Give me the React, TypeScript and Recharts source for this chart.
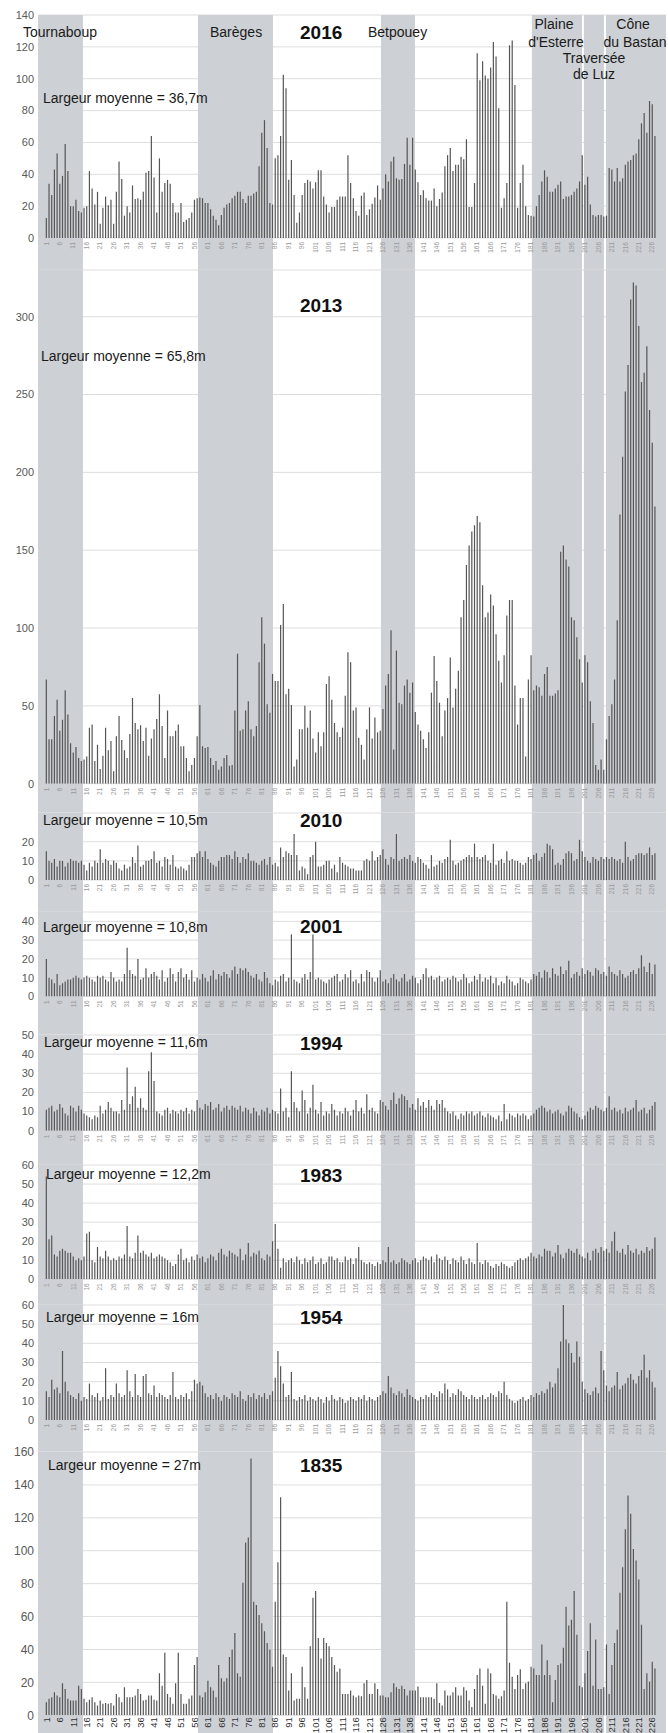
import React from 'react';
import { BarChart, Bar, XAxis, YAxis, CartesianGrid, ReferenceArea } from 'recharts';

const FONT = '"Liberation Sans", Arial, Helvetica, sans-serif';

// category numbers (cross-section index 1..227)
const categories: number[] = [];
for (let i = 1; i <= 227; i++) categories.push(i);

const xTicks = [1, 6, 11, 16, 21, 26, 31, 36, 41, 46, 51, 56, 61, 66, 71, 76, 81, 86, 91, 96, 101, 106, 111, 116, 121, 126, 131, 136, 141, 146, 151, 156, 161, 166, 171, 176, 181, 186, 191, 196, 201, 206, 211, 216, 221, 226];

// valley sections (in cross-section index units)
const bandNames = ['Tournaboup', 'Barèges', 'Betpouey', "Plaine d'Esterre", 'Traversée de Luz', 'Cône du Bastan'];
const bandStart = [-2, 57.4, 125.35, 181.4, 200.7, 208.9];
const bandEnd = [14.7, 85.25, 137.98, 200.0, 208.15, 231.2];

const s2016 = [
  12.5, 34, 27, 43, 53, 34, 39, 59, 42, 20,
  20, 24, 17, 16, 19, 20, 42, 31, 21, 29,
  9, 19, 26, 20.5, 24, 9, 29, 48, 37, 14,
  20, 16, 33, 24.5, 25, 24, 29, 41, 42, 64,
  38, 16, 50, 29, 34.5, 36.5, 34, 22, 16, 16,
  22, 10, 11.5, 12.5, 16, 24, 25, 25.5, 25, 22,
  22, 18, 14, 11.5, 8, 14.5, 19, 21, 22, 25,
  26.5, 29, 29, 24.5, 22, 26.5, 26.5, 28, 29, 45,
  66, 74, 56.5, 22, 21, 50, 52, 64, 102.5, 94,
  36.5, 49, 27, 9.5, 16, 27, 34.5, 36.5, 35.5, 31,
  35, 42.5, 42.5, 26, 21, 16, 19.5, 19.5, 24, 26,
  26, 26, 52, 34.5, 25, 17, 14, 26.5, 28.5, 14.5,
  18, 21.5, 25.5, 33, 24, 31, 40, 35.5, 48, 51,
  37.5, 36.5, 37, 46.5, 63, 46, 63, 43, 35, 27,
  30, 25, 23.5, 23.5, 31, 20, 24.5, 28.5, 45, 52,
  56.5, 42, 46, 46, 51, 49.5, 62, 19.5, 19.5, 34.5,
  116, 99, 111, 102, 100, 107, 123, 114, 81.5, 19,
  25, 34.5, 121, 124, 96, 19, 34.5, 46, 20, 14.5,
  14, 13.5, 20, 27, 35.5, 42.5, 38.5, 29, 29, 31,
  33.5, 35.5, 24.5, 26, 26, 27, 29, 31, 35.5, 52,
  33.5, 38.5, 21, 14.5, 13.5, 14.5, 14.5, 13.5, 14, 44,
  43, 35.5, 44, 35.5, 37.5, 46, 48, 49, 52, 53,
  62, 72, 78.5, 66, 86, 84, 64,
];

const s2013 = [
  67, 28.5, 28.5, 43.5, 54, 34, 41, 60, 44.5, 26,
  20, 23.5, 16.5, 14.5, 15.5, 17.5, 36, 38, 14.5, 25,
  9.5, 18, 36, 21.5, 27.5, 8, 30.5, 43.5, 28, 21.5,
  16.5, 32, 55, 39, 35, 37.5, 27.5, 36, 18, 29,
  35, 41.5, 57.5, 37, 16.5, 47, 30.5, 30.5, 34, 38,
  24, 24, 16.5, 8, 12, 16.5, 30.5, 50.5, 24, 23,
  23.5, 16.5, 12, 14.5, 9, 11, 16.5, 18.5, 11.5, 12,
  47, 83.5, 34, 35, 47, 53, 35, 30.5, 37, 78,
  107, 90, 51, 45.5, 70.5, 66, 66, 102, 115.5, 57.5,
  61, 50.5, 11, 15.5, 35, 35, 50, 36, 47, 29,
  20, 33, 24, 33, 64, 69, 54, 39, 33, 30,
  36, 56.5, 84.5, 78, 47, 49, 29.5, 25, 15.5, 35,
  49, 29, 42.5, 33, 34, 48, 63, 70.5, 98.5, 22,
  85.5, 52, 51, 63, 67, 58.5, 65, 46, 38, 34,
  28.5, 23, 33, 58.5, 82, 66, 52, 30.5, 47, 55,
  81, 49, 61, 72.5, 107, 118, 140.5, 153, 162, 166,
  172, 168, 127.5, 107, 110, 121.5, 114.5, 96, 79, 65,
  82.5, 108, 118, 118, 63, 38, 55, 55, 17.5, 67,
  82.5, 60, 63, 62, 56.5, 70.5, 75, 56.5, 56.5, 58,
  60, 149, 153, 144, 139.5, 107, 105, 94, 80, 65,
  82.5, 78, 53, 39, 12, 9, 15.5, 9, 28.5, 43.5,
  51, 67, 105, 173, 210, 252, 269, 311, 322, 320,
  294, 258, 264, 281, 240, 219, 178,
];

const s2010 = [
  15, 10, 9, 11, 7, 10, 10, 7, 9, 11,
  10, 10, 9, 10, 8, 5, 9, 7, 10, 9,
  16, 9, 11, 10, 8, 10, 9, 6, 5, 8,
  6, 7, 12, 9, 18, 7, 8, 10, 10, 11,
  15, 9, 10, 7, 12, 11, 8, 13, 7, 6,
  7, 6, 5, 8, 12, 12, 14, 15, 12, 15,
  11, 9, 8, 7, 10, 12, 12, 13, 13, 11,
  15, 12, 9, 12, 11, 14, 10, 10, 9, 8,
  10, 11, 8, 12, 8, 9, 7, 17, 12, 15,
  14, 13, 24, 13, 5, 7, 6, 3, 12, 13,
  20, 7, 7, 8, 10, 10, 6, 8, 4, 12,
  9, 8, 7, 6, 6, 5, 5, 5, 10, 11,
  10, 15, 10, 12, 13, 16, 11, 8, 12, 11,
  24, 10, 11, 12, 11, 13, 10, 9, 12, 11,
  9, 8, 6, 13, 7, 8, 10, 9, 11, 12,
  21, 10, 8, 9, 10, 11, 12, 13, 12, 19,
  12, 11, 12, 13, 10, 9, 19, 8, 10, 11,
  9, 15, 10, 11, 10, 10, 9, 8, 9, 12,
  11, 13, 14, 10, 12, 14, 19, 18, 16, 8,
  9, 8, 11, 14, 15, 14, 10, 11, 21, 15,
  12, 10, 9, 12, 11, 10, 12, 11, 12, 11,
  12, 11, 10, 11, 9, 20, 12, 10, 11, 13,
  14, 14, 13, 14, 17, 13, 14,
];

const s2001 = [
  20, 10, 9, 7, 12, 6, 7, 8, 9, 9,
  10, 11, 10, 9, 10, 11, 10, 9, 8, 11,
  10, 11, 9, 8, 13, 10, 8, 9, 8, 12,
  26, 14, 12, 11, 20, 9, 10, 15, 10, 12,
  13, 11, 9, 14, 8, 10, 15, 12, 8, 13,
  15, 10, 12, 9, 14, 8, 10, 9, 12, 10,
  8, 11, 14, 9, 12, 11, 13, 12, 10, 14,
  16, 12, 15, 14, 15, 13, 11, 10, 12, 9,
  8, 13, 10, 7, 6, 9, 8, 11, 12, 8,
  10, 33, 9, 8, 7, 10, 12, 9, 13, 33,
  9, 10, 9, 8, 7, 9, 10, 11, 12, 8,
  9, 12, 10, 14, 8, 9, 7, 12, 8, 14,
  13, 10, 8, 10, 14, 8, 9, 7, 10, 12,
  9, 8, 10, 12, 8, 9, 11, 10, 7, 9,
  12, 15, 10, 11, 9, 10, 11, 8, 9, 10,
  9, 11, 10, 8, 9, 12, 10, 7, 8, 11,
  9, 12, 8, 10, 9, 11, 7, 10, 6, 8,
  7, 11, 9, 8, 6, 7, 10, 9, 8, 7,
  9, 12, 11, 13, 10, 14, 13, 10, 15, 12,
  11, 16, 12, 14, 19, 10, 12, 13, 11, 15,
  12, 14, 13, 11, 15, 14, 12, 13, 11, 16,
  13, 12, 11, 14, 12, 10, 11, 13, 14, 12,
  15, 22, 16, 13, 18, 12, 17,
];

const s1994 = [
  11, 12, 13, 10, 11, 14, 12, 9, 8, 13,
  12, 10, 13, 11, 9, 8, 7, 6, 8, 7,
  13, 9, 11, 15, 12, 10, 10, 9, 16, 11,
  33, 14, 18, 23, 12, 17, 12, 11, 31, 41,
  26, 10, 9, 8, 11, 12, 9, 11, 10, 9,
  11, 10, 12, 9, 11, 10, 16, 12, 11, 14,
  13, 15, 11, 12, 14, 10, 12, 13, 11, 13,
  12, 11, 13, 10, 12, 11, 9, 12, 10, 8,
  11, 10, 12, 9, 11, 10, 9, 22, 10, 12,
  7, 31, 15, 12, 10, 21, 16, 9, 12, 24,
  11, 9, 15, 8, 10, 9, 14, 11, 8, 10,
  9, 12, 10, 8, 11, 16, 10, 12, 9, 19,
  11, 12, 10, 9, 16, 15, 13, 11, 16, 20,
  14, 17, 19, 18, 16, 12, 14, 11, 17, 13,
  15, 12, 16, 13, 11, 16, 14, 16, 12, 10,
  9, 10, 8, 6, 9, 8, 10, 9, 10, 8,
  9, 10, 8, 7, 9, 8, 7, 6, 8, 5,
  14, 6, 9, 8, 7, 9, 8, 9, 8, 6,
  8, 9, 11, 12, 13, 12, 10, 11, 9, 10,
  11, 9, 8, 10, 13, 12, 10, 9, 7, 6,
  8, 10, 12, 11, 13, 12, 11, 10, 12, 18,
  11, 12, 10, 11, 9, 12, 10, 11, 12, 16,
  10, 11, 12, 9, 11, 13, 15,
];

const s1983 = [
  54, 21, 23, 13, 12, 15, 16, 15, 14, 14,
  12, 10, 11, 10, 12, 24, 25, 10, 9, 17,
  12, 11, 15, 12, 10, 11, 10, 12, 11, 13,
  28, 12, 11, 14, 23, 14, 15, 13, 12, 14,
  11, 12, 13, 12, 11, 10, 9, 7, 8, 13,
  16, 10, 11, 9, 12, 10, 13, 11, 12, 9,
  11, 13, 12, 10, 14, 16, 13, 12, 15, 14,
  13, 12, 16, 10, 13, 19, 12, 14, 13, 15,
  11, 10, 13, 12, 20, 29, 16, 6, 11, 9,
  10, 11, 9, 12, 10, 8, 11, 9, 10, 12,
  8, 9, 11, 8, 9, 12, 12, 10, 11, 9,
  9, 12, 10, 11, 8, 11, 17, 10, 9, 8,
  9, 8, 7, 9, 8, 10, 9, 17, 9, 10,
  8, 9, 11, 10, 9, 8, 10, 11, 9, 10,
  12, 11, 10, 12, 9, 13, 11, 10, 12, 10,
  8, 11, 10, 9, 12, 10, 8, 11, 9, 8,
  19, 9, 8, 10, 9, 7, 6, 8, 7, 9,
  8, 7, 6, 7, 9, 10, 11, 10, 11, 12,
  14, 12, 11, 13, 12, 16, 15, 15, 12, 14,
  18, 13, 11, 14, 16, 15, 14, 16, 13, 12,
  11, 14, 10, 15, 16, 14, 17, 15, 16, 14,
  20, 25, 15, 14, 16, 13, 18, 15, 14, 16,
  13, 15, 14, 17, 15, 16, 22,
];

const s1954 = [
  15, 12, 21, 16, 17, 14, 36, 20, 15, 13,
  12, 11, 14, 10, 12, 11, 19, 13, 12, 14,
  10, 12, 27, 11, 13, 12, 19, 14, 12, 13,
  26, 15, 12, 24, 13, 12, 23, 24, 14, 13,
  18, 12, 14, 13, 12, 11, 13, 25, 12, 11,
  13, 12, 14, 11, 15, 21, 19, 20, 18, 14,
  12, 13, 11, 14, 12, 10, 13, 12, 11, 14,
  13, 12, 15, 11, 10, 13, 12, 14, 11, 13,
  12, 14, 11, 13, 15, 22, 36, 28, 19, 12,
  13, 25, 11, 10, 12, 11, 13, 10, 12, 11,
  10, 12, 11, 9, 12, 10, 13, 11, 10, 12,
  11, 9, 10, 12, 11, 10, 12, 11, 13, 10,
  12, 11, 10, 12, 13, 15, 14, 23, 17, 14,
  13, 15, 14, 12, 16, 13, 12, 11, 10, 12,
  11, 13, 12, 14, 13, 12, 15, 14, 19, 16,
  12, 14, 13, 16, 15, 13, 12, 11, 13, 12,
  11, 12, 13, 11, 12, 14, 13, 12, 15, 14,
  20, 13, 11, 10, 9, 10, 11, 12, 10, 11,
  13, 12, 14, 13, 15, 14, 16, 20, 17, 19,
  27, 41, 60, 42, 40, 35, 30, 41, 33, 20,
  16, 14, 13, 15, 17, 14, 36, 26, 18, 15,
  17, 18, 25, 16, 18, 19, 22, 24, 21, 19,
  23, 26, 34, 22, 26, 20, 17,
];

const s1835 = [
  8, 10, 11, 14, 12, 11, 19.5, 16, 10, 9,
  9, 9, 18, 16, 10, 8, 9.5, 11, 8, 6,
  9, 7, 7.5, 7, 7.5, 6, 13, 11, 8, 17,
  11, 11, 11, 12, 16, 13, 9, 9.5, 12, 12,
  9.5, 9, 25.5, 18, 38, 13, 11, 7, 19.5, 38,
  13, 7, 7, 10, 12, 30.5, 35.5, 12, 11, 14,
  21, 17, 15, 11, 30.5, 22.5, 20.5, 22.5, 35.5, 40,
  50, 25.5, 23.5, 80.5, 105, 108, 156, 69, 67, 61,
  56, 51, 44, 40, 29.5, 69, 93, 132.5, 37, 35.5,
  15, 25.5, 9, 10, 10, 29.5, 17, 10, 42, 71.5,
  75.5, 47, 34.5, 47, 44, 42, 35.5, 30.5, 26.5, 28.5,
  13, 13, 13, 15, 12, 11, 12, 11.5, 19.5, 21.5,
  13, 13, 19.5, 16, 12, 12, 11, 11, 14, 19.5,
  17, 16, 18, 16, 12, 15, 15, 15, 17.5, 11,
  11, 11, 11, 11, 10, 19.5, 7.5, 6, 15, 12,
  12, 14, 17, 12, 12, 17, 15, 9, 5, 16,
  24.5, 28.5, 18, 7, 28.5, 25.5, 13, 12, 10, 11.5,
  15, 69, 32, 23.5, 16, 24.5, 28, 16, 19.5, 20.5,
  29.5, 28.5, 24.5, 24.5, 43, 24.5, 33.5, 24.5, 8, 21.5,
  30.5, 31.5, 41, 66, 54.5, 58, 75.5, 49, 18, 17,
  25.5, 39, 56, 18, 46, 16, 16, 17, 43, 13,
  30.5, 44, 52, 74.5, 90, 113, 133.5, 122.5, 101, 94,
  82.5, 55, 16, 25.5, 20.5, 32.5, 28.5,
];

const years = ['2016', '2013', '2010', '2001', '1994', '1983', '1954', '1835'];
const means = ['36,7m', '65,8m', '10,5m', '10,8m', '11,6m', '12,2m', '16m', '27m'];
const series = [s2016, s2013, s2010, s2001, s1994, s1983, s1954, s1835];
const yTicksList = [
  [0, 20, 40, 60, 80, 100, 120, 140],
  [0, 50, 100, 150, 200, 250, 300],
  [0, 10, 20],
  [0, 10, 20, 30, 40],
  [0, 10, 20, 30, 40, 50],
  [0, 10, 20, 30, 40, 50, 60],
  [0, 10, 20, 30, 40, 50, 60],
  [0, 20, 40, 60, 80, 100, 120, 140, 160],
];
const yMaxList = [140, 330, 35, 45, 50, 60, 60, 160];

// layout (page pixels)
const plotTops = [15, 270.3, 813, 912.3, 1035, 1165, 1305, 1451.7];
const zeroYs = [238, 784, 880, 996.7, 1130.7, 1279.3, 1420, 1715];
const PAGE_H = 1733;
const titleYs = [32, 305, 820, 926, 1043, 1175, 1317, 1465];
const meanXs = [43, 41, 43, 43, 44, 46, 46, 48];
const meanYs = [98, 356, 820, 927, 1042, 1174, 1317, 1465];

const XTick = (props: any) => {
  const { x, y, payload, big } = props;
  const ay = y + (big ? 2 : 4);
  return (
    <text
      x={x}
      y={ay}
      transform={`rotate(-90, ${x}, ${ay})`}
      textAnchor="end"
      dominantBaseline="central"
      fontSize={big ? 9.5 : 6.5}
      fill={big ? '#333333' : '#9a9a9a'}
      fontFamily={FONT}
    >
      {payload.value}
    </text>
  );
};

function Panel({ idx }: { idx: number }) {
  const values = series[idx];
  const data = categories.map((c, i) => ({ c, v: values[i] }));
  const isFirst = idx === 0;
  const isLast = idx === series.length - 1;
  const top = isFirst ? 0 : plotTops[idx];
  const bottom = isLast ? PAGE_H : plotTops[idx + 1];
  const plotTop = plotTops[idx];
  const y0 = zeroYs[idx];
  const dmax = yMaxList[idx];
  const height = bottom - top;
  const axisH = bottom - y0;
  const ppu = (y0 - plotTop) / dmax;
  const yLow = -axisH / ppu;
  return (
    <div style={{ position: 'absolute', left: 0, top, width: 668, height }}>
      <BarChart
        width={668}
        height={height}
        data={data}
        margin={{ top: plotTop - top, right: 2, bottom: 0, left: 0 }}
      >
        <CartesianGrid vertical={false} stroke="#dedede" />
        {bandNames.map((n, i) => (
          <ReferenceArea
            key={n}
            x1={bandStart[i]}
            x2={bandEnd[i]}
            y1={yLow}
            y2={dmax}
            ifOverflow="visible"
            fill="#cdd0d4"
            fillOpacity={1}
            stroke="none"
          />
        ))}
        <XAxis
          type="number"
          dataKey="c"
          domain={[-2, 231.2]}
          allowDataOverflow
          ticks={xTicks}
          interval={0}
          height={axisH}
          axisLine={false}
          tickLine={false}
          tickSize={0}
          tickMargin={0}
          tick={<XTick big={isLast} />}
        />
        <YAxis
          type="number"
          domain={[0, dmax]}
          allowDataOverflow
          ticks={yTicksList[idx]}
          interval={0}
          width={38}
          axisLine={false}
          tickLine={false}
          tickSize={0}
          tickMargin={4}
          tick={{ fontSize: isLast ? 12 : 11, fill: '#595959', fontFamily: FONT }}
        />
        <Bar dataKey="v" fill="#555555" barSize={1.2} isAnimationActive={false} />
      </BarChart>
    </div>
  );
}

export default function App() {
  return (
    <div
      style={{
        position: 'absolute',
        left: 0,
        top: 0,
        width: 668,
        height: PAGE_H,
        background: '#ffffff',
        fontFamily: FONT,
        overflow: 'hidden',
      }}
    >
      <style>{'.recharts-surface{overflow:visible}'}</style>
      {series.map((_, i) => (
        <Panel key={years[i]} idx={i} />
      ))}
      <svg
        width={668}
        height={PAGE_H}
        style={{ position: 'absolute', left: 0, top: 0, pointerEvents: 'none' }}
        fontFamily={FONT}
      >
        <text x={23} y={32} fontSize={14} fill="#1a1a1a" dominantBaseline="central">Tournaboup</text>
        <text x={210} y={32} fontSize={14} fill="#1a1a1a" dominantBaseline="central">Barèges</text>
        <text x={368} y={32} fontSize={14} fill="#1a1a1a" dominantBaseline="central">Betpouey</text>
        <text x={554} y={24} fontSize={14} fill="#1a1a1a" dominantBaseline="central" textAnchor="middle">Plaine</text>
        <text x={556} y={42} fontSize={14} fill="#1a1a1a" dominantBaseline="central" textAnchor="middle">d'Esterre</text>
        <text x={633} y={24} fontSize={14} fill="#1a1a1a" dominantBaseline="central" textAnchor="middle">Cône</text>
        <text x={635} y={42} fontSize={14} fill="#1a1a1a" dominantBaseline="central" textAnchor="middle">du Bastan</text>
        <text x={594} y={58} fontSize={14} fill="#1a1a1a" dominantBaseline="central" textAnchor="middle">Traversée</text>
        <text x={594} y={74} fontSize={14} fill="#1a1a1a" dominantBaseline="central" textAnchor="middle">de Luz</text>
        {years.map((y, i) => (
          <text key={'t' + y} x={300} y={titleYs[i]} fontSize={19} fontWeight="bold" fill="#111" dominantBaseline="central">
            {y}
          </text>
        ))}
        {means.map((m, i) => (
          <text key={'m' + i} x={meanXs[i]} y={meanYs[i]} fontSize={14} fill="#1a1a1a" dominantBaseline="central">
            {'Largeur moyenne = ' + m}
          </text>
        ))}
      </svg>
    </div>
  );
}
